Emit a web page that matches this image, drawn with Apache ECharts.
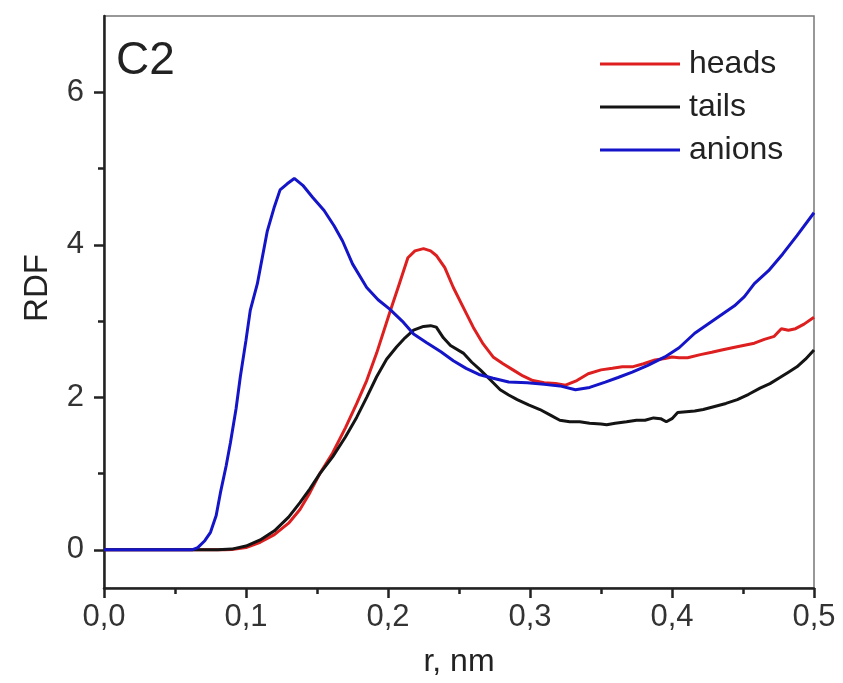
<!DOCTYPE html>
<html>
<head>
<meta charset="utf-8">
<script src="https://cdn.jsdelivr.net/npm/echarts@6/dist/echarts.min.js"></script>
<style>
  html, body { margin: 0; padding: 0; background: #fff; }
  #chart { width: 843px; height: 683px; }
</style>
</head>
<body>
<div id="chart"></div>
<script>
// RDF curves (r in nm)
const rHeads = [0, 0.05, 0.085, 0.09, 0.1, 0.11, 0.12, 0.13, 0.138, 0.145, 0.152, 0.161, 0.17, 0.178, 0.185, 0.192, 0.201, 0.208, 0.214, 0.219, 0.225, 0.23, 0.234, 0.24, 0.246, 0.253, 0.26, 0.267, 0.274, 0.281, 0.288, 0.295, 0.302, 0.31, 0.318, 0.325, 0.333, 0.341, 0.35, 0.358, 0.365, 0.372, 0.38, 0.388, 0.395, 0.4, 0.405, 0.411, 0.42, 0.428, 0.435, 0.445, 0.458, 0.465, 0.472, 0.477, 0.482, 0.487, 0.493, 0.5];
const heads = [0, 0, 0, 0.005, 0.03, 0.1, 0.2, 0.35, 0.53, 0.75, 1.0, 1.27, 1.6, 1.92, 2.22, 2.58, 3.1, 3.49, 3.83, 3.92, 3.95, 3.92, 3.86, 3.7, 3.44, 3.18, 2.92, 2.7, 2.53, 2.44, 2.36, 2.28, 2.22, 2.19, 2.18, 2.16, 2.22, 2.31, 2.36, 2.38, 2.4, 2.4, 2.44, 2.49, 2.51, 2.53, 2.52, 2.52, 2.56, 2.59, 2.62, 2.66, 2.71, 2.76, 2.8, 2.9, 2.88, 2.9, 2.96, 3.05];

const rTails = [0, 0.05, 0.08, 0.09, 0.1, 0.11, 0.12, 0.13, 0.138, 0.145, 0.152, 0.161, 0.17, 0.178, 0.185, 0.192, 0.199, 0.206, 0.212, 0.218, 0.225, 0.23, 0.234, 0.239, 0.244, 0.253, 0.259, 0.265, 0.272, 0.279, 0.285, 0.291, 0.299, 0.307, 0.315, 0.321, 0.328, 0.335, 0.342, 0.35, 0.354, 0.36, 0.368, 0.375, 0.381, 0.387, 0.392, 0.396, 0.4, 0.404, 0.41, 0.416, 0.422, 0.43, 0.438, 0.446, 0.454, 0.462, 0.469, 0.476, 0.482, 0.488, 0.494, 0.5];
const tails = [0, 0, 0, 0.01, 0.05, 0.13, 0.25, 0.43, 0.62, 0.8, 1.0, 1.22, 1.48, 1.74, 2.0, 2.27, 2.5, 2.66, 2.78, 2.88, 2.93, 2.94, 2.92, 2.78, 2.68, 2.58, 2.46, 2.36, 2.23, 2.1, 2.03, 1.97, 1.9, 1.84, 1.76, 1.7, 1.68, 1.68, 1.66, 1.65, 1.64, 1.66, 1.68, 1.7, 1.7, 1.73, 1.72, 1.68, 1.72, 1.8, 1.81, 1.82, 1.84, 1.88, 1.92, 1.97, 2.04, 2.12, 2.18, 2.26, 2.33, 2.4, 2.5, 2.62];

const rAnions = [0, 0.05, 0.062, 0.066, 0.071, 0.075, 0.079, 0.082, 0.086, 0.089, 0.093, 0.096, 0.1, 0.103, 0.108, 0.115, 0.12, 0.124, 0.129, 0.134, 0.14, 0.147, 0.155, 0.162, 0.168, 0.175, 0.185, 0.193, 0.201, 0.21, 0.218, 0.227, 0.237, 0.246, 0.255, 0.264, 0.274, 0.285, 0.298, 0.31, 0.321, 0.332, 0.342, 0.353, 0.362, 0.372, 0.383, 0.395, 0.405, 0.416, 0.43, 0.444, 0.451, 0.458, 0.468, 0.478, 0.488, 0.5];
const anions = [0, 0, 0, 0.03, 0.12, 0.23, 0.45, 0.75, 1.1, 1.4, 1.85, 2.27, 2.75, 3.14, 3.49, 4.18, 4.5, 4.72, 4.8, 4.87, 4.78, 4.62, 4.45, 4.25, 4.05, 3.75, 3.44, 3.28, 3.16, 3.0, 2.83, 2.72, 2.6, 2.48, 2.38, 2.3, 2.25, 2.2, 2.19, 2.17, 2.15, 2.1, 2.13, 2.2, 2.26, 2.33, 2.42, 2.53, 2.65, 2.84, 3.02, 3.2, 3.32, 3.49, 3.66, 3.88, 4.12, 4.42];

const seriesNames = ["heads", "tails", "anions"];
const seriesColors = ["#dd1f1f", "#141414", "#1414c8"];
const yMajorTicks = [0, 2, 4, 6];
const yMinorTicks = [1, 3, 5];

const font = "'Liberation Sans', Arial, sans-serif";

function pairs(xs, ys) {
  return xs.map((x, i) => [x, ys[i]]);
}

const myChart = echarts.init(document.getElementById("chart"));

const curves = [pairs(rHeads, heads), pairs(rTails, tails), pairs(rAnions, anions)];

const option = {
  animation: false,
  backgroundColor: "#fff",
  grid: {
    left: 104,
    right: 29,
    top: 16,
    bottom: 94,
    show: true,
    borderColor: "#777",
    borderWidth: 1.5
  },
  legend: {
    orient: "vertical",
    left: 600,
    top: 46,
    padding: 0,
    icon: "rect",
    itemWidth: 80,
    itemHeight: 3,
    itemGap: 7,
    data: seriesNames,
    textStyle: {
      fontFamily: font,
      fontSize: 32,
      color: "#222",
      lineHeight: 36,
      padding: [0, 0, 0, 4]
    }
  },
  graphic: [
    {
      type: "text",
      left: 116,
      top: 38,
      style: {
        text: "C2",
        font: "46px " + font,
        fill: "#222"
      }
    }
  ],
  xAxis: {
    type: "value",
    min: 0,
    max: 0.5,
    interval: 0.1,
    name: "r, nm",
    nameLocation: "middle",
    nameGap: 58,
    nameTextStyle: { fontFamily: font, fontSize: 32, color: "#222" },
    axisLine: { show: true, onZero: false, lineStyle: { color: "#222", width: 2.5 } },
    axisTick: { show: true, length: 10, lineStyle: { color: "#222", width: 2.5 } },
    minorTick: { show: true, splitNumber: 2, length: 6, lineStyle: { color: "#222", width: 2.5 } },
    splitLine: { show: false },
    axisLabel: {
      margin: 14,
      fontFamily: font,
      fontSize: 31,
      color: "#333",
      formatter: (v) => v.toFixed(1).replace(".", ",")
    }
  },
  yAxis: [
    {
      type: "value",
      min: -0.5,
      max: 7,
      name: "RDF",
      nameLocation: "middle",
      nameGap: 50,
      nameTextStyle: { fontFamily: font, fontSize: 33, color: "#222", padding: [0, 0, 0, 28] },
      axisLine: { show: true, onZero: false, lineStyle: { color: "#222", width: 2.5 } },
      axisTick: { show: true, length: 10, customValues: yMajorTicks, lineStyle: { color: "#222", width: 2.5 } },
      splitLine: { show: false },
      axisLabel: {
        margin: 20,
        customValues: yMajorTicks,
        fontFamily: font,
        fontSize: 31,
        color: "#333"
      }
    },
    {
      type: "value",
      min: -0.5,
      max: 7,
      position: "left",
      axisLine: { show: false },
      axisTick: { show: true, length: 6, customValues: yMinorTicks, lineStyle: { color: "#222", width: 2.5 } },
      axisLabel: { show: false },
      splitLine: { show: false }
    }
  ],
  series: seriesNames.map((name, i) => ({
    name: name,
    type: "line",
    data: curves[i],
    symbol: "none",
    color: seriesColors[i],
    lineStyle: { width: 3, color: seriesColors[i] },
    z: i === 2 ? 4 : 3
  }))
};

myChart.setOption(option);
window.addEventListener("resize", function () {
  myChart.resize();
});
</script>
</body>
</html>
